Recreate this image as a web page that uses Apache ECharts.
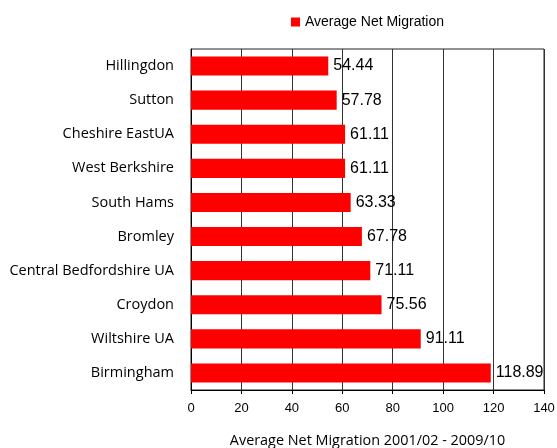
<!DOCTYPE html>
<html>
<head>
<meta charset="utf-8">
<script src="https://cdn.jsdelivr.net/npm/echarts@6/dist/echarts.min.js"></script>
<style>html,body{margin:0;padding:0;background:#fff}#c{width:557px;height:448px}</style>
</head>
<body>
<div id="c"></div>
<script>
// Local authorities, top to bottom
const areas = ["Hillingdon", "Sutton", "Cheshire EastUA", "West Berkshire", "South Hams",
  "Bromley", "Central Bedfordshire UA", "Croydon", "Wiltshire UA", "Birmingham"];
const netMigration = [54.44, 57.78, 61.11, 61.11, 63.33, 67.78, 71.11, 75.56, 91.11, 118.89];
const xTicks = [0, 20, 40, 60, 80, 100, 120, 140];

const chart = echarts.init(document.getElementById('c'), null, { renderer: 'canvas' });
chart.setOption({
  animation: false,
  backgroundColor: '#fff',
  legend: {
    top: 10, left: 286,
    itemWidth: 9, itemHeight: 9, itemGap: 4,
    icon: 'rect',
    textStyle: { fontFamily: 'Liberation Sans', fontSize: 14, color: '#000' },
    data: ['Average Net Migration']
  },
  grid: {
    left: 191, right: 13, top: 49, bottom: 58,
    outerBoundsMode: 'none',
    containLabel: false,
    show: true, borderColor: '#222', borderWidth: 1
  },
  xAxis: {
    type: 'value', min: xTicks[0], max: xTicks[xTicks.length - 1], interval: 20,
    axisLine: { show: true, lineStyle: { color: '#000' } },
    axisTick: { show: true, length: 4, lineStyle: { color: '#000' } },
    axisLabel: { margin: 12, fontFamily: 'Liberation Sans', fontSize: 13, color: '#000' },
    splitLine: { show: true, lineStyle: { color: '#333', width: 1 } },
    name: 'Average Net Migration 2001/02 - 2009/10',
    nameLocation: 'middle', nameGap: 44,
    nameTextStyle: { fontFamily: 'Open Sans', fontSize: 14.4, color: '#000' }
  },
  yAxis: {
    type: 'category', data: areas, inverse: true,
    axisLine: { show: true, lineStyle: { color: '#000' } },
    axisTick: { show: false },
    axisLabel: { margin: 17, fontFamily: 'Open Sans', fontSize: 14.5, color: '#000' }
  },
  series: [{
    name: 'Average Net Migration',
    type: 'bar',
    data: netMigration,
    barWidth: '56%',
    itemStyle: { color: '#ff0000' },
    label: {
      show: true, position: 'right', distance: 5,
      fontFamily: 'Liberation Sans', fontSize: 16, color: '#000',
      formatter: p => p.value.toFixed(2)
    }
  }]
});
</script>
</body>
</html>
